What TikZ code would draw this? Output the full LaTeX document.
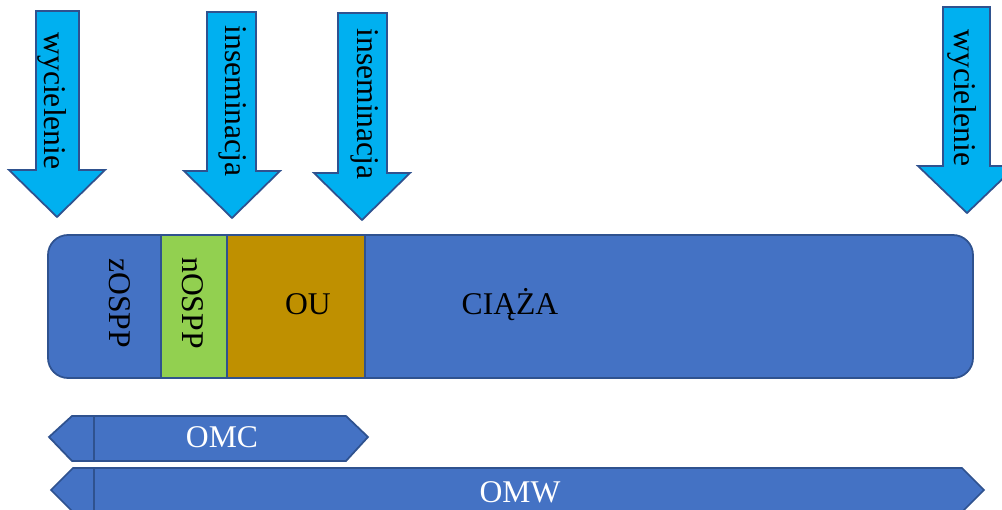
\documentclass[tikz,border=0pt]{standalone}
\usepackage{fontspec}
\setmainfont{Liberation Serif}
\usepackage{xcolor}
\usepackage{tikz}
\definecolor{barblue}{HTML}{4472C4}
\definecolor{edgeblue}{HTML}{2F528F}
\definecolor{arrowcyan}{HTML}{00B0F0}
\definecolor{lightgreen}{HTML}{92D050}
\definecolor{darkgold}{HTML}{BF9000}
\tikzstyle{downarrow} = [draw=edgeblue, 
line width=1pt, 
fill=arrowcyan]
\tikzstyle{block} = [draw=edgeblue, 
line width=1pt]
\tikzstyle{vtext} = [rotate=-90, 
inner sep=0pt, 
font=\fontsize{18}{20}\selectfont]
\tikzstyle{htext} = [inner sep=0pt, 
font=\fontsize{18}{20}\selectfont]

\begin{document}
\begin{tikzpicture}[x=0.02cm, y=-0.02cm]

\clip (0,0) rectangle (1002,510);

% arrows on top
\draw [downarrow] (36,11) -- (79,11) -- (79,170) -- (105,170) -- (57,217) -- (9,170) -- (36,170) -- cycle;
\draw [downarrow] (207,12) -- (256,12) -- (256,171) -- (280,171) -- (232,218) -- (184,171) -- (207,171) -- cycle;
\draw [downarrow] (338,13) -- (387,13) -- (387,173) -- (410,173) -- (362,220) -- (314,173) -- (338,173) -- cycle;
\draw [downarrow] (943,7) -- (990,7) -- (990,166) -- (1016,166) -- (967,213) -- (918,166) -- (943,166) -- cycle;

\node (cal1) [vtext] at (52,101) {wycielenie};
\node (ins1) [vtext] at (233,101) {inseminacja};
\node (ins2) [vtext] at (365,104) {inseminacja};
\node (cal2) [vtext] at (962,98) {wycielenie};

% main bar
\draw [block, fill=barblue, rounded corners=0.4cm] (48,235) rectangle (973,378);
\draw [block, fill=lightgreen] (161,235) rectangle (227,378);
\draw [block, fill=darkgold] (227,235) rectangle (365,378);

\node (zospp) [vtext] at (120,303) {zOSPP};
\node (nospp) [vtext] at (193,303) {nOSPP};
\node (ou) [htext] at (308,304) {OU};
\node (ciaza) [htext] at (510,305) {CIĄŻA};

% periods below
\draw [block, fill=barblue] (49,437) -- (72,416) -- (346,416) -- (368,437) -- (346,461) -- (72,461) -- cycle;
\draw [block] (94,416) -- (94,461);
\draw [block, fill=barblue] (51,490) -- (73,468) -- (962,468) -- (984,490) -- (962,512) -- (73,512) -- cycle;
\draw [block] (94,468) -- (94,512);

\node (omc) [htext, text=white] at (222,437) {OMC};
\node (omw) [htext, text=white] at (520,492) {OMW};

\end{tikzpicture}
\end{document}
